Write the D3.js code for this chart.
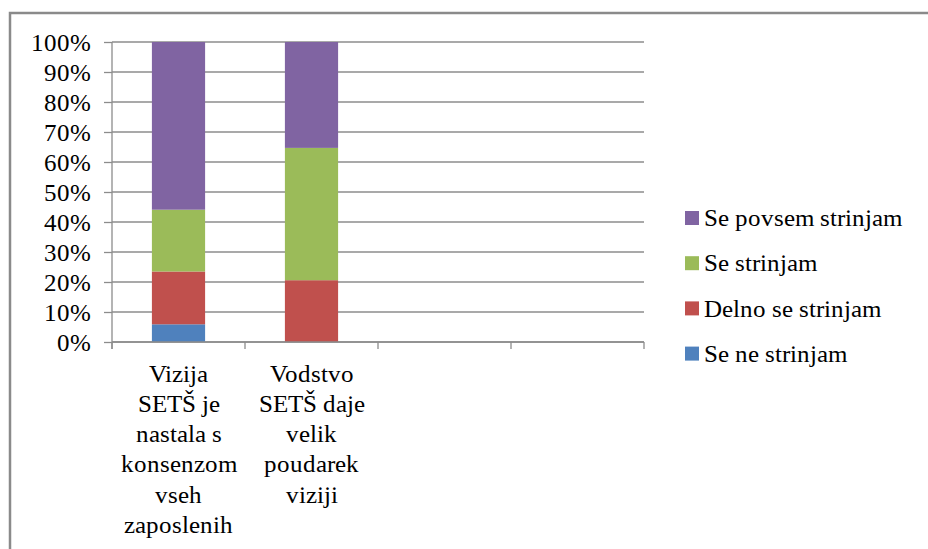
<!DOCTYPE html>
<html>
<head>
<meta charset="utf-8">
<script src="https://cdn.jsdelivr.net/npm/d3@7"></script>
<style>
  @font-face { font-family: "ChartSerif"; src: local("Liberation Serif"), local("LiberationSerif"), local("Liberation Serif Regular"), local("LiberationSerif-Regular"); }
  body { margin: 0; }
</style>
</head>
<body>
<svg id="fig" width="928" height="549"></svg>
<script>
// Category slots (two trailing slots are empty), labels broken into lines
const categories = [
  "Vizija\nSETŠ je\nnastala s\nkonsenzom\nvseh\nzaposlenih",
  "Vodstvo\nSETŠ daje\nvelik\npoudarek\nviziji",
  "",
  ""
];

// Answer series, bottom to top of each stack
const seriesNames = ["Se ne strinjam", "Delno se strinjam", "Se strinjam", "Se povsem strinjam"];
const seriesColors = ["#4F81BD", "#C0504D", "#9BBB59", "#8064A2"];

// Share of answers (%) per category, one array per series
const seNeStrinjam      = [5.9, 0, null, null];
const delnoSeStrinjam   = [17.6, 20.6, null, null];
const seStrinjam        = [20.6, 44.1, null, null];
const sePovsemStrinjam  = [55.9, 35.3, null, null];

const yTicks = [0, 10, 20, 30, 40, 50, 60, 70, 80, 90, 100];

const seriesValues = [seNeStrinjam, delnoSeStrinjam, seStrinjam, sePovsemStrinjam];

const svg = d3.select("#fig");
const FONT = 25;
const gridColor = "#8c8c8c";

// serif text helper
function serif(sel) {
  return sel
    .attr("font-family", "ChartSerif, 'Liberation Serif'")
    .style("font-family", "ChartSerif, 'Liberation Serif'")
    .attr("font-size", FONT)
    .attr("fill", "#000");
}

// outer chart frame
svg.append("rect")
  .attr("x", 10).attr("y", 13)
  .attr("width", 940).attr("height", 560)
  .attr("fill", "none")
  .attr("stroke", "#8a8a8a")
  .attr("stroke-width", 2.5);

const plot = { left: 112, right: 644, top: 42, bottom: 342 };

const x = d3.scaleBand()
  .domain(d3.range(categories.length))
  .range([plot.left, plot.right])
  .paddingInner(0.6)
  .paddingOuter(0.3);

const y = d3.scaleLinear()
  .domain([0, 100])
  .range([plot.bottom, plot.top]);

// horizontal gridlines
svg.append("g")
  .selectAll("line")
  .data(yTicks)
  .join("line")
  .attr("x1", plot.left).attr("x2", plot.right)
  .attr("y1", d => y(d)).attr("y2", d => y(d))
  .attr("stroke", gridColor)
  .attr("stroke-width", 1.3);

// stacked bars
const rows = categories.map((c, i) => {
  const r = { idx: i };
  seriesNames.forEach((s, k) => { r[s] = seriesValues[k][i] || 0; });
  return r;
});
const stacked = d3.stack().keys(seriesNames)(rows);

svg.append("g")
  .selectAll("g")
  .data(stacked)
  .join("g")
  .attr("fill", (d, k) => seriesColors[k])
  .selectAll("rect")
  .data(d => d.filter(p => p[1] - p[0] > 0))
  .join("rect")
  .attr("x", p => x(p.data.idx))
  .attr("width", x.bandwidth())
  .attr("y", p => y(p[1]))
  .attr("height", p => y(p[0]) - y(p[1]));

// y axis
const yAxis = d3.axisLeft(y)
  .tickValues(yTicks)
  .tickFormat(d => d + "%")
  .tickSize(8)
  .tickPadding(13)
  .tickSizeOuter(0);

const gy = svg.append("g")
  .attr("transform", `translate(${plot.left},0)`)
  .call(yAxis);
serif(gy);
gy.select(".domain").remove();
gy.selectAll(".tick line").attr("stroke", gridColor).attr("stroke-width", 1.3);
serif(gy.selectAll(".tick text"));

// vertical axis line, extended down to the category tick marks
svg.append("line")
  .attr("x1", plot.left).attr("x2", plot.left)
  .attr("y1", plot.top).attr("y2", plot.bottom + 7)
  .attr("stroke", gridColor).attr("stroke-width", 1.3);

// category axis line and slot separators
svg.append("line")
  .attr("x1", plot.left).attr("x2", plot.right)
  .attr("y1", plot.bottom).attr("y2", plot.bottom)
  .attr("stroke", gridColor).attr("stroke-width", 1.3);

const step = x.step();
svg.append("g")
  .selectAll("line")
  .data(d3.range(categories.length + 1))
  .join("line")
  .attr("x1", i => plot.left + i * step)
  .attr("x2", i => plot.left + i * step)
  .attr("y1", plot.bottom).attr("y2", plot.bottom + 7)
  .attr("stroke", gridColor).attr("stroke-width", 1.3);

// category labels
categories.forEach((c, i) => {
  if (!c) return;
  const cx = x(i) + x.bandwidth() / 2;
  const t = serif(svg.append("text").attr("text-anchor", "middle"));
  c.split("\n").forEach((line, j) => {
    t.append("tspan")
      .attr("x", cx)
      .attr("y", 381.5 + j * 30.3)
      .text(line);
  });
});

// legend, top entry is the top of the stack
const legendOrder = d3.range(seriesNames.length).reverse();
legendOrder.forEach((k, j) => {
  const cy = 218 + j * 45.2;
  svg.append("rect")
    .attr("x", 685).attr("y", cy - 7)
    .attr("width", 14).attr("height", 14)
    .attr("fill", seriesColors[k]);
  serif(svg.append("text"))
    .attr("x", 704).attr("y", cy)
    .attr("dy", "0.33em")
    .text(seriesNames[k]);
});
</script>
</body>
</html>
